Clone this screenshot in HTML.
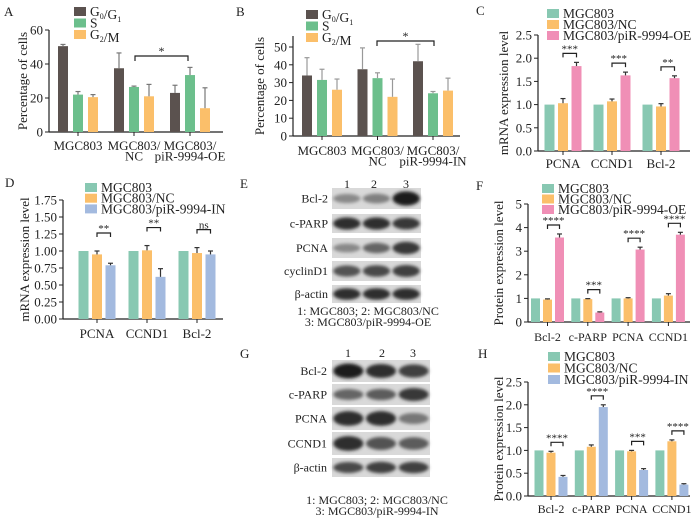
<!DOCTYPE html>
<html><head><meta charset="utf-8">
<style>
html,body{margin:0;padding:0;background:#fff;}
svg{display:block;font-family:"Liberation Serif",serif;}
</style></head>
<body>
<svg id="fig" width="700" height="518" viewBox="0 0 700 518" xmlns="http://www.w3.org/2000/svg">
<defs>
<filter id="blur" x="-20%" y="-50%" width="140%" height="200%"><feGaussianBlur stdDeviation="1.6"/></filter>
</defs>
</svg>
<script>
// ---------- DATA ----------
const cycleGroupsA = ["MGC803","MGC803/|NC","MGC803/|piR-9994-OE"];
const cycleSeriesNames = ["G0/G1","S","G2/M"];
const aG0G1 = [50.5, 37.5, 23];
const aS = [22, 26.5, 33.5];
const aG2M = [20.5, 21, 14];
const aErrG0G1 = [1, 9, 4.5];
const aErrS = [1.8, 0.5, 4.5];
const aErrG2M = [1.5, 7, 12];
const aTicks = [0, 20, 40, 60];

const cycleGroupsB = ["MGC803","MGC803/|NC","MGC803/|piR-9994-IN"];
const bG0G1 = [34, 37.5, 42];
const bS = [31.5, 32.5, 24];
const bG2M = [26, 22, 25.5];
const bErrG0G1 = [10, 12, 9.5];
const bErrS = [6, 3, 1];
const bErrG2M = [6, 10, 7];
const bTicks = [0, 10, 20, 30, 40, 50];

const mrnaGenes = ["PCNA","CCND1","Bcl-2"];
const cCtrl = [1, 1, 1];
const cNC = [1.03, 1.07, 0.96];
const cOE = [1.83, 1.63, 1.57];
const cErrNC = [0.1, 0.05, 0.06];
const cErrOE = [0.08, 0.07, 0.05];
const cSig = ["***","***","**"];
const cTicks = [0, 0.5, 1.0, 1.5, 2.0, 2.5];

const dCtrl = [1, 1, 1];
const dNC = [0.95, 1.01, 0.97];
const dIN = [0.79, 0.62, 0.95];
const dErrNC = [0.05, 0.07, 0.08];
const dErrIN = [0.03, 0.12, 0.05];
const dSig = ["**","**","ns"];
const dTicks = [0, 0.25, 0.5, 0.75, 1.0, 1.25, 1.5, 1.75];

const proteins = ["Bcl-2","c-PARP","PCNA","CCND1"];
const fCtrl = [1, 1, 1, 1];
const fNC = [0.95, 0.97, 1.0, 1.12];
const fOE = [3.58, 0.4, 3.07, 3.7];
const fErrNC = [0.03, 0.02, 0.03, 0.08];
const fErrOE = [0.15, 0.03, 0.1, 0.1];
const fSig = ["****","***","****","****"];
const fTicks = [0, 1, 2, 3, 4, 5];

const hCtrl = [1, 1, 1, 1];
const hNC = [0.95, 1.08, 0.98, 1.2];
const hIN = [0.42, 1.95, 0.57, 0.25];
const hErrNC = [0.03, 0.04, 0.02, 0.03];
const hErrIN = [0.03, 0.05, 0.03, 0.02];
const hSig = ["****","****","***","****"];
const hTicks = [0, 0.5, 1.0, 1.5, 2.0, 2.5];

// ---------- DRAW ----------
const NS = "http://www.w3.org/2000/svg";
const svg = document.getElementById("fig");
function el(tag, attrs, parent, text){
  const e = document.createElementNS(NS, tag);
  for (const k in attrs) e.setAttribute(k, attrs[k]);
  if (text !== undefined) e.textContent = text;
  (parent || svg).appendChild(e);
  return e;
}
function fmt(v, dec){ return v.toFixed(dec); }

function barChart(cfg){
  const g = el("g", {});
  
  
  const ys = v => cfg.y0 - v * (cfg.y0 - cfg.yTop) / cfg.max;
  const cx = i => cfg.c0 + i * cfg.step;
  const nS = cfg.series.length;
  const bx = (i, s) => cx(i) + (s - (nS - 1) / 2) * cfg.gap - cfg.bw / 2;
  const yAxis = el("line", {x1:cfg.x0, y1:cfg.y0, x2:cfg.x0, y2:cfg.axTop, stroke:"#222", "stroke-width":1.2}, g);
  
  
  const xAxis = el("line", {x1:cfg.x0, y1:cfg.y0, x2:cfg.xEnd, y2:cfg.y0, stroke:"#222", "stroke-width":1.2}, g);
  
  
  cfg.ticks.forEach(t => {
    el("line", {x1:cfg.x0-4, y1:ys(t), x2:cfg.x0, y2:ys(t), stroke:"#222", "stroke-width":1}, g);
    const tl = el("text", {x:cfg.x0-6, y:ys(t)+4.5, "text-anchor":"end", "font-size":13, fill:"#222"}, g, fmt(t, cfg.dec));
    
    
  });
  const yt = el("text", {x:cfg.titleX, y:(cfg.y0+cfg.axTop)/2, transform:`rotate(-90 ${cfg.titleX} ${(cfg.y0+cfg.axTop)/2})`, "text-anchor":"middle", "font-size":13, fill:"#222"}, g, cfg.ytitle);
  
  
  cfg.cats.forEach((c, i) => {
    el("line", {x1:cx(i), y1:cfg.y0, x2:cx(i), y2:cfg.y0+4, stroke:"#222", "stroke-width":1}, g);
    c.split("|").forEach((part, k) => {
      const lab = el("text", {x:cx(i), y:cfg.labelY + k*10.5, "text-anchor":"middle", "font-size":cfg.labelFs||13, fill:"#222"}, g, part);
      
      
    });
    cfg.series.forEach((ser, s) => {
      const v = ser[i];
      const r = el("rect", {x:bx(i,s), y:ys(v), width:cfg.bw, height:cfg.y0-ys(v), fill:cfg.colors[s]}, g);
      
      
      const e = cfg.errs[s] ? cfg.errs[s][i] : 0;
      if (e > 0){
        const xc = bx(i,s) + cfg.bw/2;
        const ec = cfg.errColor || "#444";
        const eb = el("line", {x1:xc, y1:ys(v), x2:xc, y2:ys(v+e), stroke:ec, "stroke-width":1.2}, g);
        
        
        el("line", {x1:xc-2.5, y1:ys(v+e), x2:xc+2.5, y2:ys(v+e), stroke:ec, "stroke-width":1.2}, g);
      }
    });
    if (cfg.sig){
      const x1 = bx(i,1)+cfg.bw/2, x2 = bx(i,2)+cfg.bw/2;
      const top = Math.max(cfg.series[1][i]+cfg.errs[1][i], cfg.series[2][i]+cfg.errs[2][i]);
      const yb = ys(top) - cfg.sigOff;
      const br = el("path", {d:`M${x1},${yb+4} V${yb} H${x2} V${yb+4}`, fill:"none", stroke:"#222", "stroke-width":1.2}, g);
      
      
      const st = el("text", {x:(x1+x2)/2, y:yb-1, "text-anchor":"middle", "font-size":11, fill:"#222"}, g, cfg.sig[i]);
      
      
    }
  });
  cfg.legend.forEach((name, s) => {
    const ly = cfg.legY + s*cfg.legStep;
    const sw = el("rect", {x:cfg.legX, y:ly-5, width:12, height:9, fill:cfg.colors[s]}, g);
    
    
    const t = el("text", {x:cfg.legX+16, y:ly+4, "font-size":13.5, fill:"#222"}, g);
    
    
    if (cfg.cycle){
      const parts = name === "G0/G1" ? [["G",""],["0","sub"],["/G",""],["1","sub"]] : name === "G2/M" ? [["G",""],["2","sub"],["/M",""]] : [["S",""]];
      parts.forEach(p => {
        el("tspan", p[1]==="sub" ? {"font-size":8, dy:3} : {dy: 0}, t, p[0]);
        if (p[1]==="sub"){ el("tspan", {dy:-3, "font-size":13.5}, t, ""); }
      });
    } else t.textContent = name;
  });
  const pl = el("text", {x:cfg.letterX, y:cfg.letterY, "font-size":13, fill:"#222"}, svg, cfg.letter);
  
  
}

const cyc = ["#5b524f","#6cbf8c","#fbbf6a"];
barChart({name:"panel-a-chart", letter:"A", letterX:4, letterY:16, x0:49, y0:132, yTop:30, axTop:30, max:60, xEnd:223, ticks:aTicks, dec:0,
  c0:78, step:56, bw:10, gap:15, series:[aG0G1,aS,aG2M], errs:[aErrG0G1,aErrS,aErrG2M], colors:cyc, cats:cycleGroupsA,
  labelY:150, ytitle:"Percentage of cells", titleX:27, legend:cycleSeriesNames, legX:74, legY:12, legStep:11.5, cycle:true, errColor:"#777"});
barChart({name:"panel-b-chart", letter:"B", letterX:236, letterY:16, x0:293, y0:136, yTop:47, axTop:36, max:50, xEnd:460, ticks:bTicks, dec:0,
  c0:322, step:55.5, bw:10, gap:15, series:[bG0G1,bS,bG2M], errs:[bErrG0G1,bErrS,bErrG2M], colors:cyc, cats:cycleGroupsB,
  labelY:155, ytitle:"Percentage of cells", titleX:264, legend:cycleSeriesNames, legX:306, legY:15, legStep:11.5, cycle:true, errColor:"#999"});
[[135,188,56],[377,434,41]].forEach(b => {
  const p = el("path", {d:`M${b[0]},${b[2]+5} V${b[2]} H${b[1]} V${b[2]+5}`, fill:"none", stroke:"#222", "stroke-width":1.2});
  
  
  const t = el("text", {x:(b[0]+b[1])/2, y:b[2]-1, "text-anchor":"middle", "font-size":12, fill:"#222"}, svg, "*");
  
  
});
const oeC = ["#88c8b2","#fbbf6a","#f08fb6"];
const inC = ["#88c8b2","#fbbf6a","#a3badf"];
barChart({name:"panel-c-chart", letter:"C", letterX:476, letterY:15, x0:538, y0:151, yTop:35, axTop:35, max:2.5, xEnd:690, ticks:cTicks, dec:1,
  c0:563, step:49, bw:10, gap:13.5, series:[cCtrl,cNC,cOE], errs:[[0,0,0],cErrNC,cErrOE], colors:oeC, cats:mrnaGenes,
  labelY:168, ytitle:"mRNA expression level", titleX:508, legend:["MGC803","MGC803/NC","MGC803/piR-9994-OE"], legX:547, legY:14, legStep:11,
  sig:cSig, sigOff:9, errColor:"#333"});
barChart({name:"panel-d-chart", letter:"D", letterX:5, letterY:187, x0:63, y0:319, yTop:200, axTop:200, max:1.75, xEnd:223, ticks:dTicks, dec:2,
  c0:97, step:50, bw:10, gap:13.5, series:[dCtrl,dNC,dIN], errs:[[0,0,0],dErrNC,dErrIN], colors:inC, cats:mrnaGenes,
  labelY:338, ytitle:"mRNA expression level", titleX:29, legend:["MGC803","MGC803/NC","MGC803/piR-9994-IN"], legX:85, legY:188, legStep:10.7,
  sig:dSig, sigOff:18, errColor:"#333"});
barChart({name:"panel-f-chart", letter:"F", letterX:476, letterY:190, x0:528, y0:322, yTop:204, axTop:204, max:5, xEnd:690, ticks:fTicks, dec:0,
  c0:547.5, step:40.3, bw:9, gap:12, series:[fCtrl,fNC,fOE], errs:[[0,0,0,0],fErrNC,fErrOE], colors:oeC, cats:proteins,
  labelY:341, ytitle:"Protein expression level", titleX:503, legend:["MGC803","MGC803/NC","MGC803/piR-9994-OE"], legX:542, legY:189, legStep:10.5,
  sig:fSig, sigOff:9, errColor:"#333", labelFs:12});
barChart({name:"panel-h-chart", letter:"H", letterX:478, letterY:358, x0:528, y0:496, yTop:382, axTop:382, max:2.5, xEnd:690, ticks:hTicks, dec:1,
  c0:551, step:40.3, bw:9, gap:12, series:[hCtrl,hNC,hIN], errs:[[0,0,0,0],hErrNC,hErrIN], colors:inC, cats:proteins,
  labelY:513, ytitle:"Protein expression level", titleX:503, legend:["MGC803","MGC803/NC","MGC803/piR-9994-IN"], legX:548, legY:357, legStep:11.5,
  sig:hSig, sigOff:9, errColor:"#333", labelFs:12});

// ---------- WESTERN BLOTS ----------
const eRows = ["Bcl-2","c-PARP","PCNA","cyclinD1","β-actin"];
const eIntensity = [[0.35,0.4,0.95],[0.85,0.85,0.8],[0.35,0.55,0.8],[0.65,0.7,0.75],[0.85,0.85,0.85]];
const gRows = ["Bcl-2","c-PARP","PCNA","CCND1","β-actin"];
const gIntensity = [[0.95,0.85,0.75],[0.55,0.6,0.8],[0.85,0.85,0.45],[0.85,0.65,0.6],[0.7,0.75,0.75]];
function blot(cfg){
  const g = el("g", {});
  
  
  const pl = el("text", {x:240, y:cfg.letterY, "font-size":13, fill:"#222"}, g, cfg.letter);
  
  
  cfg.laneX.forEach((x, i) => {
    const t = el("text", {x:x, y:cfg.laneY, "text-anchor":"middle", "font-size":12, fill:"#222"}, g, String(i+1));
    
    
  });
  cfg.rows.forEach((r, k) => {
    const [y1, y2] = cfg.rowY[k];
    const box = el("rect", {x:cfg.bx1, y:y1, width:cfg.bx2-cfg.bx1, height:y2-y1, fill:"#d9d9d9"}, g);
    
    
    const lw = (cfg.bx2-cfg.bx1)/3;
    cfg.intensity[k].forEach((v, i) => {
      const c = Math.round(200 - v*180);
      const b = el("ellipse", {cx:cfg.bx1+lw*(i+0.5), cy:(y1+y2)/2, rx:lw*0.46, ry:(y2-y1)*(0.15+0.2*v), fill:`rgb(${c},${c},${c})`, filter:"url(#blur)"}, g);
      
      
    });
    const lab = el("text", {x:cfg.labX, y:(y1+y2)/2+4, "text-anchor":"end", "font-size":12, fill:"#222"}, g, r);
    
    
  });
  cfg.caption.forEach((c, k) => {
    const t = el("text", {x:cfg.capX, y:cfg.capY + k*11, "text-anchor":"middle", "font-size":12, fill:"#222"}, g, c);
    
    
  });
}
blot({name:"panel-e-blot", letter:"E", letterY:188, laneX:[347,374,406], laneY:188, bx1:332, bx2:421,
  rows:eRows, intensity:eIntensity, rowY:[[188,209],[214,233],[238,258],[261,281],[285,303]], labX:328,
  caption:["1: MGC803; 2: MGC803/NC","3: MGC803/piR-9994-OE"], capX:368, capY:315});
blot({name:"panel-g-blot", letter:"G", letterY:358, laneX:[348,382,413], laneY:357, bx1:332, bx2:430,
  rows:gRows, intensity:gIntensity, rowY:[[360,382],[384,405],[407,430],[432,455],[458,477]], labX:327,
  caption:["1: MGC803; 2: MGC803/NC","3: MGC803/piR-9994-IN"], capX:377, capY:504});
</script>
</body></html>
